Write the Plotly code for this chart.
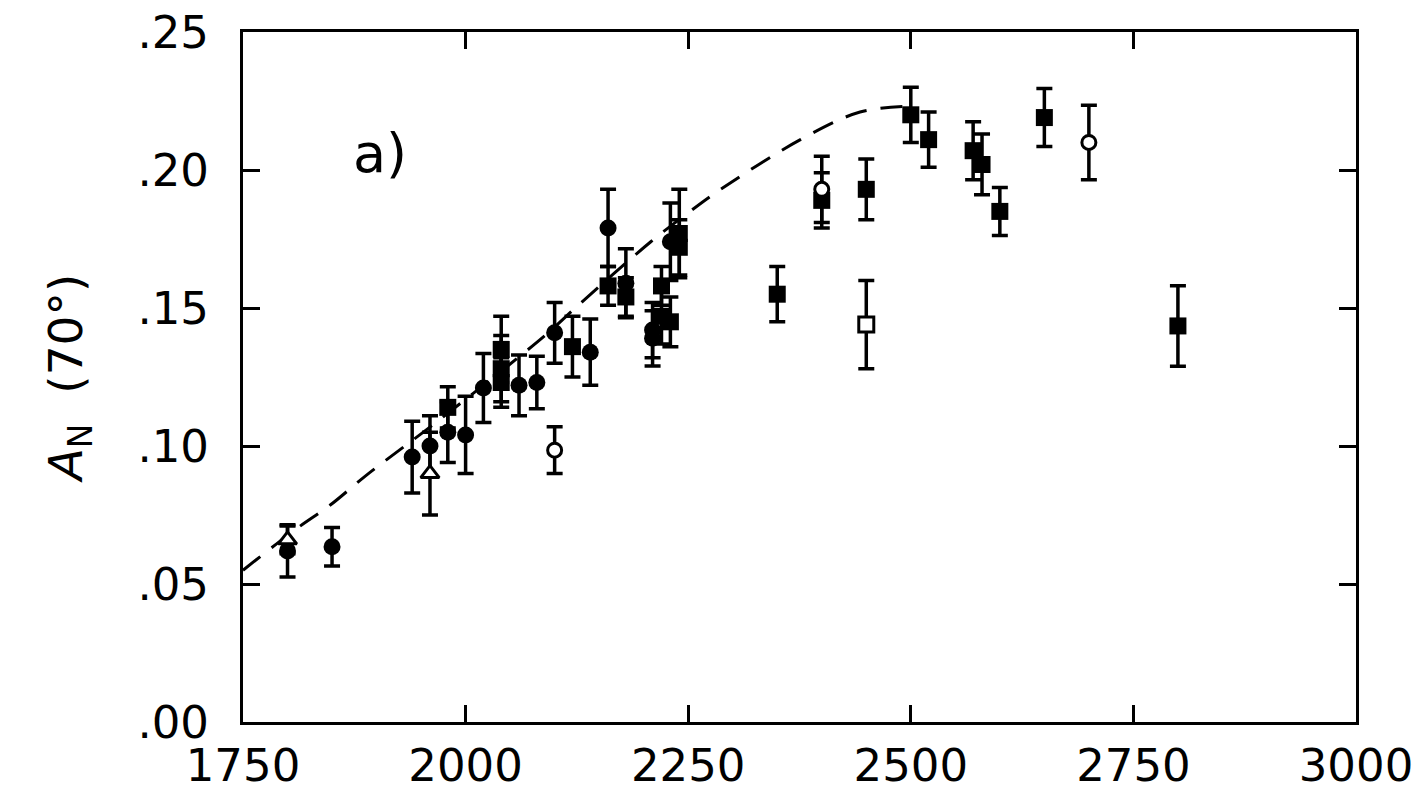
import plotly.graph_objects as go

# Filled circles
fc_x = [1800, 1850, 1940, 1960, 1980, 2000, 2020, 2060, 2080, 2100, 2140, 2160, 2180, 2210, 2210, 2230]
fc_y = [0.062, 0.0635, 0.096, 0.100, 0.105, 0.104, 0.121, 0.122, 0.123, 0.141, 0.134, 0.179, 0.159, 0.142, 0.139, 0.174]
fc_e = [0.0095, 0.007, 0.013, 0.011, 0.011, 0.014, 0.0125, 0.011, 0.0095, 0.011, 0.012, 0.014, 0.0125, 0.010, 0.010, 0.014]

# Filled squares
fs_x = [1980, 2040, 2040, 2040, 2120, 2160, 2180, 2220, 2220, 2230, 2240, 2240, 2350, 2400, 2450, 2500, 2520, 2570, 2580, 2600, 2650, 2800]
fs_y = [0.114, 0.135, 0.128, 0.123, 0.136, 0.158, 0.154, 0.158, 0.147, 0.145, 0.177, 0.172, 0.155, 0.189, 0.193, 0.220, 0.211, 0.207, 0.202, 0.185, 0.219, 0.1435]
fs_e = [0.0075, 0.012, 0.012, 0.009, 0.011, 0.007, 0.007, 0.007, 0.010, 0.009, 0.016, 0.010, 0.010, 0.010, 0.011, 0.010, 0.010, 0.0105, 0.011, 0.0087, 0.0105, 0.0146]

# Open circles
oc_x = [2100, 2400, 2700]
oc_y = [0.0985, 0.193, 0.210]
oc_e = [0.0085, 0.012, 0.0135]

# Open squares
os_x = [2450]
os_y = [0.144]
os_e = [0.016]

# Open triangles
ot_x = [1800, 1960]
ot_y = [0.066, 0.090]
ot_e = [0.005, 0.015]

# Dashed model curve
curve_x = [1750, 1810, 1848, 1887, 1926, 1963, 2089, 2130, 2208, 2248, 2282, 2376, 2443, 2493]
curve_y = [0.055, 0.070, 0.0786, 0.089, 0.0986, 0.1076, 0.140, 0.152, 0.174, 0.184, 0.192, 0.211, 0.221, 0.223]

x_ticks = [1750, 2000, 2250, 2500, 2750, 3000]
y_ticks = [0.00, 0.05, 0.10, 0.15, 0.20, 0.25]
y_tick_text = [".00", ".05", ".10", ".15", ".20", ".25"]

fig = go.Figure()

fig.add_trace(go.Scatter(x=curve_x, y=curve_y, mode="lines", line=dict(color="black", width=3, dash="22px,14px", shape="spline"), showlegend=False))

def err(e):
    return dict(type="data", array=e, visible=True, color="black", thickness=3.5, width=8)

fig.add_trace(go.Scatter(x=fc_x, y=fc_y, mode="markers", error_y=err(fc_e),
                         marker=dict(symbol="circle", size=17, color="black"), showlegend=False))
fig.add_trace(go.Scatter(x=fs_x, y=fs_y, mode="markers", error_y=err(fs_e),
                         marker=dict(symbol="square", size=17, color="black"), showlegend=False))
fig.add_trace(go.Scatter(x=oc_x, y=oc_y, mode="markers", error_y=err(oc_e),
                         marker=dict(symbol="circle", size=14, color="white", line=dict(color="black", width=3)), showlegend=False))
fig.add_trace(go.Scatter(x=os_x, y=os_y, mode="markers", error_y=err(os_e),
                         marker=dict(symbol="square", size=15, color="white", line=dict(color="black", width=3)), showlegend=False))
fig.add_trace(go.Scatter(x=ot_x, y=ot_y, mode="markers", error_y=err(ot_e),
                         marker=dict(symbol="triangle-up", size=16, color="white", line=dict(color="black", width=3)), showlegend=False))

fig.add_annotation(x=1904, y=0.206, text="a)", showarrow=False, font=dict(size=54, color="black", family="DejaVu Sans"))

font = dict(family="DejaVu Sans", size=45, color="black")

fig.update_xaxes(range=[1750, 3000], tickvals=x_ticks, ticktext=[str(v) for v in x_ticks],
                 showline=True, linecolor="black", linewidth=3, mirror="ticks",
                 ticks="inside", ticklen=17, tickwidth=3, tickcolor="black", automargin=False,
                 showgrid=False, zeroline=False, tickfont=font, ticklabelstandoff=2)
fig.update_yaxes(range=[0, 0.25], tickvals=y_ticks, ticktext=y_tick_text,
                 showline=True, linecolor="black", linewidth=3, mirror="ticks",
                 ticks="inside", ticklen=17, tickwidth=3, tickcolor="black", automargin=False,
                 showgrid=False, zeroline=False, tickfont=font, ticklabelstandoff=22,
                 title=dict(text="<i>A</i><sub>N</sub>  (70°)", font=dict(family="DejaVu Sans", size=47, color="black"), standoff=40))

fig.update_layout(width=1418, height=798, margin=dict(l=243, r=62, t=32, b=76),
                  paper_bgcolor="white", plot_bgcolor="white")

fig.write_html("out.html")
